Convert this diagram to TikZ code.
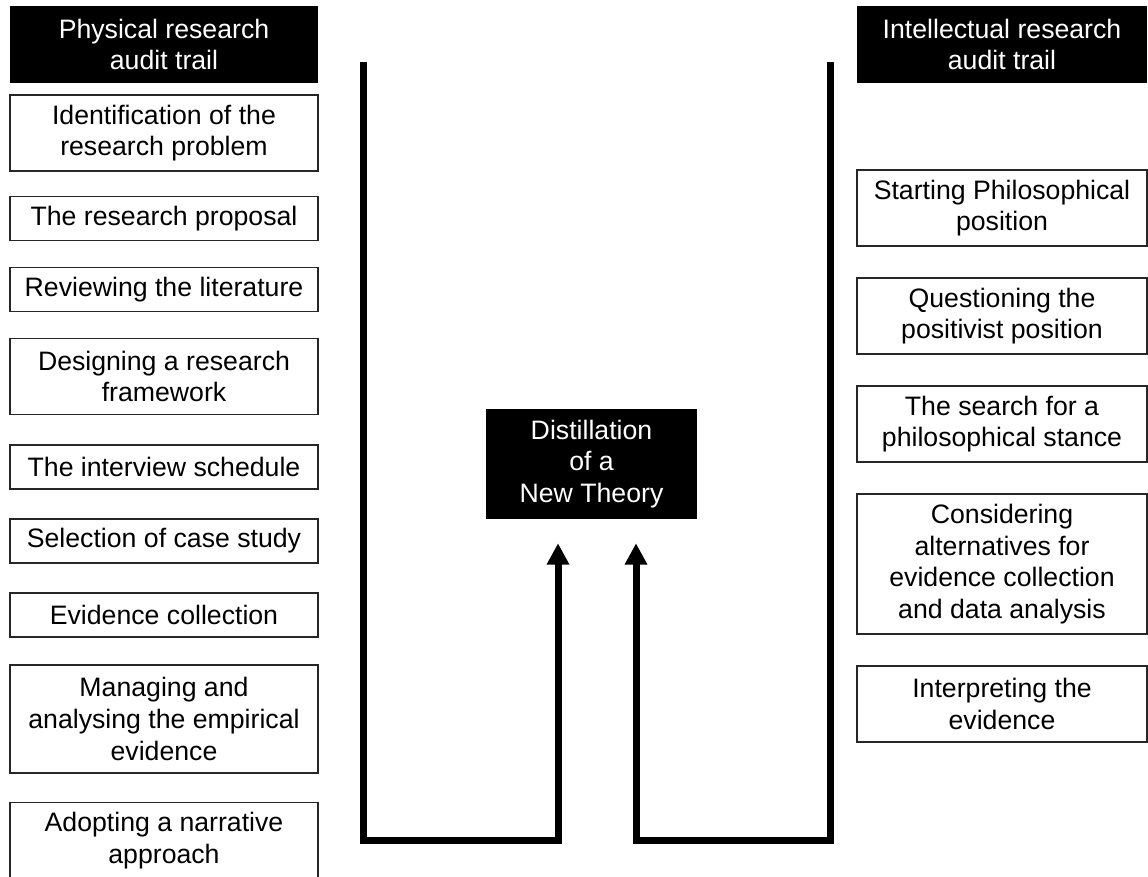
\documentclass[tikz,border=0pt]{standalone}
\usepackage{fontspec}
\setmainfont{Liberation Sans}
\usetikzlibrary{arrows.meta}
\begin{document}
\begin{tikzpicture}[x=0.75pt,y=-0.75pt,
  every node/.style={font=\fontsize{20}{23.8}\selectfont, align=center, inner sep=0pt},
  stage/.style={draw=black!85, line width=0.8pt, fill=white, minimum width=231pt},
  istage/.style={stage, minimum width=217.5pt},
  header/.style={fill=black, text=white, minimum height=57.75pt},
  one/.style={minimum height=33pt},
  two/.style={minimum height=57pt},
  three/.style={minimum height=81pt},
  four/.style={minimum height=105pt},
  flow/.style={line width=5.25pt, line join=miter, shorten >=18pt,
    -{Triangle[length=16pt,width=16pt]}}]
\useasboundingbox (0,0) rectangle (1148,877);

% physical research audit trail (left column)
\node[header, minimum width=231pt] (phys) at (164,44.5) {Physical research\\audit trail};
\node[stage, two]   (p1) at (164,133)   {Identification of the\\research problem};
\node[stage, one]   (p2) at (164,218.5) {The research proposal};
\node[stage, one]   (p3) at (164,289.5) {Reviewing the literature};
\node[stage, two]   (p4) at (164,376.5) {Designing a research\\framework};
\node[stage, one]   (p5) at (164,467)   {The interview schedule};
\node[stage, one]   (p6) at (164,541)   {Selection of case study};
\node[stage, one]   (p7) at (164,615)   {Evidence collection};
\node[stage, three] (p8) at (164,719)   {Managing and\\analysing the empirical\\evidence};
\node[stage, two]   (p9) at (164,840.5) {Adopting a narrative\\approach};

% intellectual research audit trail (right column)
\node[header, minimum width=217.5pt] (intel) at (1002,44.5) {Intellectual research\\audit trail};
\node[istage, two]  (i1) at (1002,208) {Starting Philosophical\\position};
\node[istage, two]  (i2) at (1002,316) {Questioning the\\positivist position};
\node[istage, two]  (i3) at (1002,424) {The search for a\\philosophical stance};
\node[istage, four] (i4) at (1002,564) {Considering\\alternatives for\\evidence collection\\and data analysis};
\node[istage, two]  (i5) at (1002,704) {Interpreting the\\evidence};

% outcome
\node[header, minimum width=158.25pt, minimum height=82.5pt] (theory) at (591.5,464)
  {Distillation\\of a\\New Theory};

% the two trails feeding the outcome
\coordinate (ltop)  at (363,62);
\coordinate (lbend) at (558,840.5);
\coordinate (rtop)  at (830,62);
\coordinate (rbend) at (636,840.5);
\draw[flow] (ltop) |- (lbend) -- (lbend |- theory.south);
\draw[flow] (rtop) |- (rbend) -- (rbend |- theory.south);
\end{tikzpicture}
\end{document}
